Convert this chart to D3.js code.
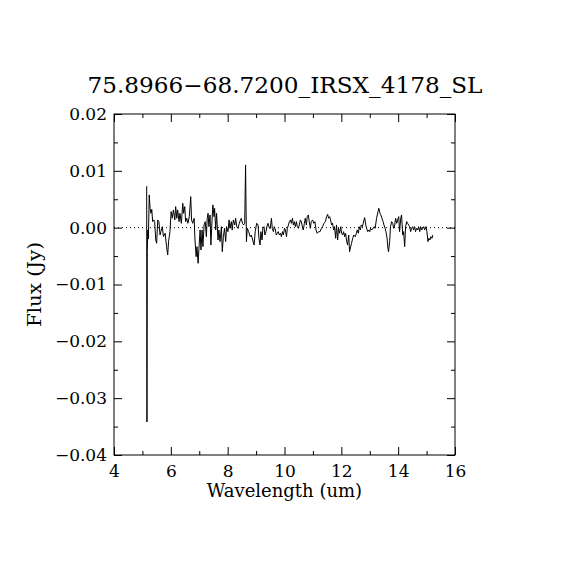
<!DOCTYPE html>
<html>
<head>
<meta charset="utf-8">
<script src="https://cdn.jsdelivr.net/npm/d3@7"></script>
<style>
body { margin: 0; background: #fff; }
text { font-family: "DejaVu Serif", "Liberation Serif", serif; fill: #000; }
</style>
</head>
<body>
<script>
//Width and height
var margin = {top: 114, right: 115, bottom: 115, left: 114};
var width = 570 - margin.left - margin.right;
var height = 570 - margin.top - margin.bottom;

var titleText = "75.8966\u221268.7200_IRSX_4178_SL";
var xTitle = "Wavelength (um)";
var yTitle = "Flux (Jy)";

//ticks
var xMajor = [4, 6, 8, 10, 12, 14, 16];
var xMinor = [5, 7, 9, 11, 13, 15];
var xLabels = ["4", "6", "8", "10", "12", "14", "16"];
var yMajor = [-0.04, -0.03, -0.02, -0.01, 0.00, 0.01, 0.02];
var yMinor = [-0.035, -0.025, -0.015, -0.005, 0.005, 0.015];
var yLabels = ["\u22120.04", "\u22120.03", "\u22120.02", "\u22120.01", "0.00", "0.01", "0.02"];

//spectrum, wavelength in um, flux in mJy
var wave = [
    5.15, 5.16, 5.17, 5.19, 5.21, 5.24, 5.27, 5.30, 5.33, 5.36,
    5.40, 5.43, 5.47, 5.50, 5.54, 5.58, 5.62, 5.65, 5.70, 5.74,
    5.80, 5.85, 5.89, 5.92, 5.97, 6.01, 6.05, 6.09, 6.14, 6.17,
    6.21, 6.24, 6.29, 6.32, 6.37, 6.42, 6.45, 6.49, 6.52, 6.56,
    6.60, 6.65, 6.70, 6.73, 6.77, 6.82, 6.85, 6.89, 6.92, 6.96,
    6.99, 7.03, 7.06, 7.10, 7.13, 7.17, 7.21, 7.25, 7.28, 7.31,
    7.34, 7.38, 7.41, 7.45, 7.48, 7.52, 7.54, 7.58, 7.61, 7.66,
    7.69, 7.73, 7.78, 7.81, 7.85, 7.89, 7.93, 7.96, 8.01, 8.05,
    8.08, 8.13, 8.16, 8.20, 8.25, 8.28, 8.32, 8.36, 8.41, 8.45,
    8.48, 8.52, 8.56, 8.60, 8.63, 8.66, 8.69, 8.74, 8.79, 8.83,
    8.88, 8.93, 8.97, 9.02, 9.07, 9.10, 9.14, 9.17, 9.21, 9.24,
    9.28, 9.31, 9.35, 9.38, 9.42, 9.47, 9.50, 9.54, 9.57, 9.61,
    9.64, 9.68, 9.71, 9.75, 9.78, 9.82, 9.86, 9.89, 9.93, 9.96,
    10.00, 10.03, 10.07, 10.10, 10.14, 10.17, 10.21, 10.24, 10.28, 10.31,
    10.35, 10.38, 10.42, 10.45, 10.49, 10.52, 10.56, 10.59, 10.63, 10.66,
    10.70, 10.73, 10.77, 10.80, 10.84, 10.87, 10.91, 10.94, 10.99, 11.03,
    11.07, 11.11, 11.15, 11.20, 11.25, 11.30, 11.34, 11.39, 11.44, 11.48,
    11.52, 11.55, 11.59, 11.62, 11.66, 11.69, 11.73, 11.76, 11.80, 11.83,
    11.87, 11.90, 11.94, 11.98, 12.01, 12.05, 12.08, 12.12, 12.15, 12.19,
    12.22, 12.26, 12.29, 12.33, 12.36, 12.40, 12.44, 12.49, 12.53, 12.56,
    12.60, 12.63, 12.67, 12.70, 12.74, 12.77, 12.82, 12.86, 12.89, 12.93,
    12.96, 13.00, 13.03, 13.07, 13.16, 13.19, 13.24, 13.29, 13.32, 13.36,
    13.39, 13.43, 13.47, 13.50, 13.54, 13.57, 13.61, 13.64, 13.66, 13.70,
    13.73, 13.77, 13.81, 13.84, 13.88, 13.91, 13.95, 13.98, 14.02, 14.05,
    14.09, 14.12, 14.16, 14.19, 14.23, 14.26, 14.30, 14.33, 14.37, 14.40,
    14.44, 14.47, 14.51, 14.54, 14.58, 14.61, 14.65, 14.69, 14.72, 14.76,
    14.79, 14.83, 14.86, 14.90, 14.93, 14.98, 15.01, 15.05, 15.08, 15.12,
    15.15, 15.19, 15.22
];
var flux = [
    7.3, -34.2, -4.2, -0.4, -2.0, 5.76, 3.41, 2.53, 3.2, 1.06,
    1.36, 1.1, -2.17, -2.75, 1.36, 1.06, -1.29, -0.70, 0.18, -1.58,
    -0.99, -3.34, -4.81, -2.46, -0.70, 2.82, 1.65, 3.12, 1.36, 3.70,
    1.65, 3.12, 1.06, 2.53, 0.77, 4.29, 2.53, 3.70, 1.06, 1.65,
    0.77, 1.94, 5.46, 1.36, 0.77, 1.65, -2.17, -5.10, -3.34, -6.27,
    -3.63, -0.40, -3.93, -0.40, -3.34, 0.48, 1.06, -1.58, 1.65, 2.53,
    0.18, 2.24, -3.05, 1.36, 4.00, 1.94, 3.41, -0.40, 2.53, -2.17,
    -0.40, -2.46, 0.18, -4.22, -1.58, -0.11, -2.46, 0.18, -0.70, 1.36,
    -0.11, 1.06, -0.40, 1.36, 0.48, 1.65, 0.18, -0.11, 0.77, 1.36,
    1.65, 0.77, 0.48, 0.77, 11.04, -2.46, -0.11, -0.70, -1.58, -1.29,
    -2.17, -3.05, -0.70, 0.77, 0.48, -1.87, -3.05, -0.70, -2.17, -0.11,
    0.18, -1.29, -0.70, 0.18, 0.77, -0.11, -0.11, 1.65, -0.11, -0.70,
    0.18, -0.40, -1.29, -0.99, -0.70, -1.29, -0.99, -1.58, -0.70, -1.29,
    -0.11, -0.40, -1.58, -0.11, 0.48, 1.06, 1.36, 0.77, 1.65, 0.48,
    1.06, 0.18, 1.06, 0.18, -0.11, 0.48, 1.36, 1.06, 0.18, -0.40,
    0.77, 1.65, 0.48, 1.94, 2.24, 1.06, -0.11, 1.06, 1.36, 0.77,
    1.06, -0.40, -0.99, -0.70, -0.70, -0.11, 0.18, 0.77, 1.06, 1.94,
    2.35, 1.65, 1.94, 1.36, 0.48, 0.77, -0.40, 0.18, -1.87, 0.48,
    -2.17, -0.11, -0.99, 0.18, -0.99, -1.29, -0.70, -1.58, -0.99, -2.46,
    -3.05, -1.29, -4.22, -3.34, -2.75, -1.87, -1.29, -1.58, -0.99, -0.40,
    -0.99, 0.18, -0.40, 0.48, 0.18, 0.77, 1.77, 0.48, -0.11, -0.70,
    -0.40, -0.70, -0.11, -0.40, 0.18, -0.11, 1.65, 2.82, 3.41, 2.53,
    2.24, 1.65, 1.06, 0.48, -0.11, -0.70, -1.87, -3.63, -4.22, -2.46,
    0.18, 1.06, 0.77, -0.11, 0.48, 1.65, 0.77, 1.36, 1.94, -0.70,
    1.65, 2.24, -1.29, -0.70, -3.34, 0.18, 1.06, 0.77, 0.48, 0.18,
    -0.70, -0.11, 0.18, -0.40, 0.18, -0.70, -0.11, -0.40, 0.18, -0.70,
    0.18, -0.40, -0.11, 0.18, -0.40, 0.18, -0.70, -2.46, -1.87, -2.17,
    -1.58, -1.87, -1.29
];

var dataset = wave.map(function(w, i) { return [w, flux[i] / 1000]; });

var svg = d3.select("body")
    .append("svg")
    .attr("width", 570)
    .attr("height", 570);

svg.append("rect").attr("width", 570).attr("height", 570).attr("fill", "#fff");

var g = svg.append("g")
    .attr("transform", "translate(" + margin.left + "," + margin.top + ")");

var xScale = d3.scaleLinear().domain([4, 16]).range([0, width]);
var yScale = d3.scaleLinear().domain([-0.04, 0.02]).range([height, 0]);

//axes, ticks pointing inward on all four sides
function styleAxis(sel) {
    sel.select(".domain").remove();
    sel.selectAll("line").attr("stroke", "#000").attr("stroke-width", 1);
    sel.selectAll("text").attr("font-size", 17).attr("fill", "#000");
}

g.append("g")
    .attr("transform", "translate(0," + height + ")")
    .call(d3.axisBottom(xScale).tickValues(xMajor).tickSize(-8).tickPadding(10)
        .tickFormat(function(d, i) { return xLabels[i]; }))
    .call(styleAxis);
g.append("g")
    .attr("transform", "translate(0," + height + ")")
    .call(d3.axisBottom(xScale).tickValues(xMinor).tickSize(-4).tickFormat(""))
    .call(styleAxis);
g.append("g")
    .call(d3.axisTop(xScale).tickValues(xMajor).tickSize(-8).tickFormat(""))
    .call(styleAxis);
g.append("g")
    .call(d3.axisTop(xScale).tickValues(xMinor).tickSize(-4).tickFormat(""))
    .call(styleAxis);

g.append("g")
    .call(d3.axisLeft(yScale).tickValues(yMajor).tickSize(-8).tickPadding(7)
        .tickFormat(function(d, i) { return yLabels[i]; }))
    .call(styleAxis);
g.append("g")
    .call(d3.axisLeft(yScale).tickValues(yMinor).tickSize(-4).tickFormat(""))
    .call(styleAxis);
g.append("g")
    .attr("transform", "translate(" + width + ",0)")
    .call(d3.axisRight(yScale).tickValues(yMajor).tickSize(-8).tickFormat(""))
    .call(styleAxis);
g.append("g")
    .attr("transform", "translate(" + width + ",0)")
    .call(d3.axisRight(yScale).tickValues(yMinor).tickSize(-4).tickFormat(""))
    .call(styleAxis);

//frame
g.append("rect")
    .attr("x", 0).attr("y", 0)
    .attr("width", width).attr("height", height)
    .attr("fill", "none").attr("stroke", "#000").attr("stroke-width", 1);

//zero line
g.append("line")
    .attr("x1", 0).attr("x2", width)
    .attr("y1", yScale(0)).attr("y2", yScale(0))
    .attr("stroke", "#000")
    .attr("stroke-width", 1)
    .attr("stroke-dasharray", "1,3");

//spectrum
var line = d3.line()
    .x(function(d) { return xScale(d[0]); })
    .y(function(d) { return yScale(d[1]); });

g.append("path")
    .datum(dataset)
    .attr("d", line)
    .attr("fill", "none")
    .attr("stroke", "#000")
    .attr("stroke-width", 1);

//titles
svg.append("text")
    .attr("x", 285).attr("y", 93)
    .attr("text-anchor", "middle")
    .attr("font-size", 22)
    .attr("textLength", 395)
    .attr("lengthAdjust", "spacingAndGlyphs")
    .text(titleText);

svg.append("text")
    .attr("x", margin.left + width / 2).attr("y", 497)
    .attr("text-anchor", "middle")
    .attr("font-size", 18)
    .text(xTitle);

svg.append("text")
    .attr("transform", "translate(41," + (margin.top + height / 2) + ") rotate(-90)")
    .attr("text-anchor", "middle")
    .attr("font-size", 18)
    .attr("textLength", 85)
    .attr("lengthAdjust", "spacingAndGlyphs")
    .text(yTitle);
</script>
</body>
</html>
